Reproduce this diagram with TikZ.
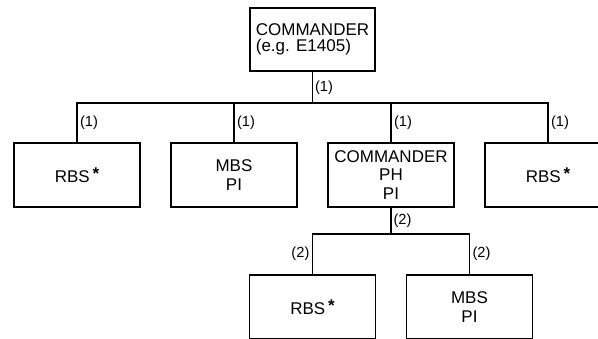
\documentclass[tikz,border=0pt]{standalone}
\usepackage{fontspec}
\setmainfont{Liberation Sans}

\begin{document}
\begin{tikzpicture}[
				level 1/.style={sibling distance=4.71cm, level distance=4.065cm,
					edge from parent path={(\tikzparentnode.south) -- ++(0,-0.93) -| (\tikzchildnode.north)}},
				level 2/.style={sibling distance=4.71cm, level distance=3.96cm,
					edge from parent path={(\tikzparentnode.south) -- ++(0,-0.78) -| (\tikzchildnode.north)}},
				edge from parent/.style={draw, line width=1.3pt},
				every node/.style={font=\fontsize{14.5}{16}\selectfont},
				unit/.style={draw, line width=1.3pt, minimum width=3.78cm, minimum height=1.92cm, align=center, inner sep=2pt},
				lbl/.style={font=\fontsize{12.5}{12}\selectfont, inner sep=2pt}
				]
				
				\useasboundingbox (0,0) rectangle (17.94,-10.17);
				
				% Top of the hierarchy
				\node[unit, minimum width=3.75cm, minimum height=1.89cm, align=left, font=\fontsize{14.5}{13.5}\selectfont] (root) at (9.375,-1.185) {COMMANDER\\(e.g. E1405)}
				child {
					node[unit] (rbsA) {RBS\,\raisebox{0.35ex}{\textbf{*}}}
					edge from parent node[lbl, right, pos=0.75] {(1)}
				}
				child {
					node[unit] (mbsA) {MBS\\PI}
					edge from parent node[lbl, right, pos=0.75] {(1)}
				}
				child {
					node[unit] (cmdB) {COMMANDER\\PH\\PI}
					child {
						node[unit] (rbsC) {RBS\,\raisebox{0.35ex}{\textbf{*}}}
						edge from parent node[lbl, left, pos=0.75] {(2)}
					}
					child {
						node[unit] (mbsC) {MBS\\PI}
						edge from parent node[lbl, right, pos=0.75] {(2)}
					}
					edge from parent node[lbl, right, pos=0.75] {(1)}
				}
				child {
					node[unit] (rbsB) {RBS\,\raisebox{0.35ex}{\textbf{*}}}
					edge from parent node[lbl, right, pos=0.75] {(1)}
				};
				
				% Labels on the parent stems
				\node[lbl, right] (lblRoot) at ([yshift=-0.47cm]root.south) {(1)};
				\node[lbl, right] (lblCmd) at ([yshift=-0.39cm]cmdB.south) {(2)};
				
			\end{tikzpicture}
\end{document}
